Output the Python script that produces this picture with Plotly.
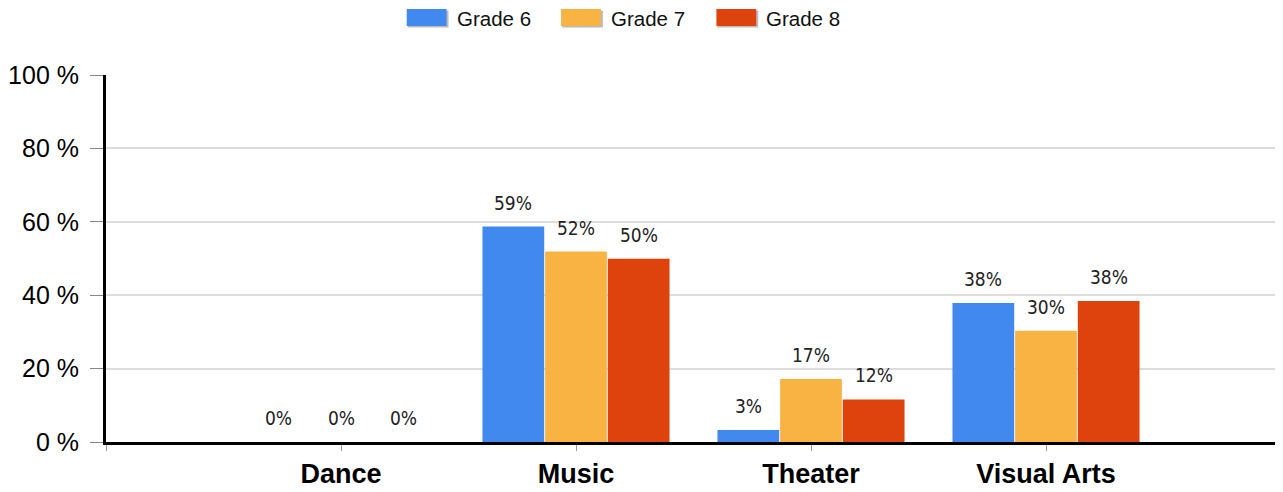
import plotly.graph_objects as go

categories = ["Dance", "Music", "Theater", "Visual Arts"]
series_names = ["Grade 6", "Grade 7", "Grade 8"]
grade6 = [0, 58.7, 3.3, 37.9]
grade7 = [0, 51.9, 17.2, 30.3]
grade8 = [0, 49.9, 11.6, 38.4]
labels6 = ["0%", "59%", "3%", "38%"]
labels7 = ["0%", "52%", "17%", "30%"]
labels8 = ["0%", "50%", "12%", "38%"]
y_ticks = [0, 20, 40, 60, 80, 100]
y_tick_text = ["0 %", "20 %", "40 %", "60 %", "80 %", "100 %"]
colors = ["#4289EF", "#F9B342", "#DF430D"]

series = [grade6, grade7, grade8]
series_labels = [labels6, labels7, labels8]

fig = go.Figure()
for name, vals, col in zip(series_names, series, colors):
    fig.add_trace(go.Bar(x=categories, y=vals, name=name, marker_color=col,
                         marker_line_width=0, showlegend=False))

# data labels above bars, positioned from the data
n = len(series)
group_frac = 0.8
bw = group_frac / n
cat_index = {c: i + 1 for i, c in enumerate(categories)}
for k, (vals, labs) in enumerate(zip(series, series_labels)):
    off = (k - (n - 1) / 2) * bw
    for c, v, t in zip(categories, vals, labs):
        fig.add_annotation(x=cat_index[c] + off, y=v, text=t, showarrow=False,
                           xref="x", yref="y", yanchor="middle", yshift=24,
                           font=dict(family="DejaVu Sans Condensed, DejaVu Sans, sans-serif",
                                     size=19, color="#222222"))

# page-pixel helpers for the legend (plot area spans x 103..1283, y 75..442 in page)
PX0, PX1, PY0, PY1 = 103, 1283, 75, 442
def px(xp):
    return (xp - PX0) / (PX1 - PX0)
def py(yp):
    return (PY1 - yp) / (PY1 - PY0)

legend_x = [405, 560, 716]
for name, col, lx in zip(series_names, colors, legend_x):
    fig.add_shape(type="rect", xref="paper", yref="paper",
                  x0=px(lx + 1), x1=px(lx + 42), y0=py(27.5), y1=py(10.5),
                  fillcolor="#BBBBBB", line=dict(width=0), layer="above")
    fig.add_shape(type="rect", xref="paper", yref="paper",
                  x0=px(lx), x1=px(lx + 40), y0=py(26), y1=py(9),
                  fillcolor=col, line=dict(width=0), layer="above")
    fig.add_annotation(xref="paper", yref="paper", x=px(lx + 48),
                       y=py(18), xanchor="left", yanchor="middle",
                       text=name, showarrow=False,
                       font=dict(family="Liberation Sans, Arial, sans-serif", size=20.5, color="#111111"))

fig.update_layout(
    width=1273, height=484,
    margin=dict(l=93, r=0, t=67, b=50),
    paper_bgcolor="white", plot_bgcolor="white",
    barmode="group", bargap=0.2, bargroupgap=0.015,
    xaxis=dict(type="category", categoryorder="array",
               categoryarray=[" "] + categories,
               range=[0, len(categories) + 1],
               showline=True, linecolor="black", linewidth=3,
               ticks="outside", ticklen=6, tickcolor="#999999", tickwidth=1,
               ticklabelstandoff=0,
               tickfont=dict(family="Liberation Sans, Arial, sans-serif", size=27, color="black", weight="bold"),
               showgrid=False, zeroline=False, fixedrange=True),
    yaxis=dict(range=[0, 100], tickvals=y_ticks, ticktext=y_tick_text,
               showline=True, linecolor="black", linewidth=3,
               ticks="outside", ticklen=13, tickcolor="#888888", tickwidth=1,
               ticklabelstandoff=6,
               tickfont=dict(family="Liberation Sans, Arial, sans-serif", size=25, color="black"),
               showgrid=True, gridcolor="#DDDDDD", gridwidth=2, zeroline=False),
    showlegend=False,
)

fig.write_html("out.html")
